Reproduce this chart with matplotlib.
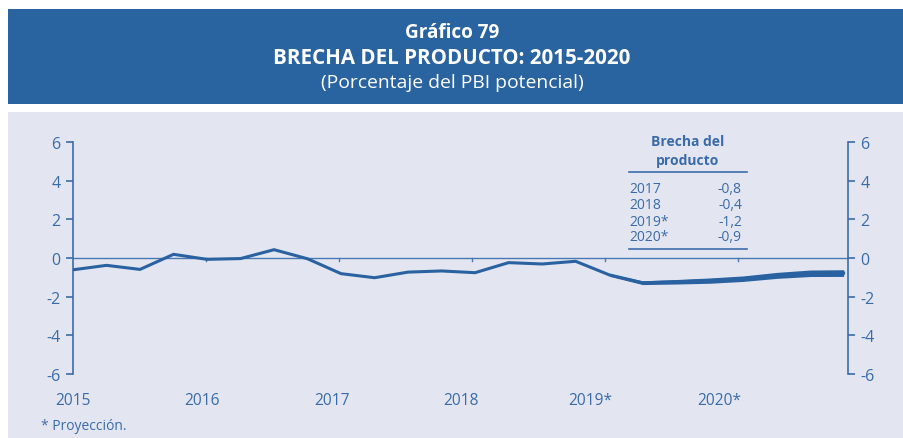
"""Brecha del producto 2015-2020, trimestral, con tabla de promedios anuales."""
import matplotlib.pyplot as plt
import numpy as np
from matplotlib.patches import Rectangle

plt.rcParams['font.family'] = ['Open Sans', 'DejaVu Sans']

# Serie trimestral 2015T1-2020T4 (% del PBI potencial)
gap = [-0.61, -0.38, -0.59, 0.19,
       -0.07, -0.03, 0.43, -0.04,
       -0.81, -1.02, -0.73, -0.67,
       -0.76, -0.24, -0.31, -0.17,
       -0.87, -1.28, -1.23, -1.17,
       -1.07, -0.90, -0.79, -0.78]
years = ['2015', '2016', '2017', '2018', '2019*', '2020*']
table_years = ['2017', '2018', '2019*', '2020*']
table_values = ['-0,8', '-0,4', '-1,2', '-0,9']
y_ticks = [-6, -4, -2, 0, 2, 4, 6]

BAR = '#2963A0'
PANEL = '#E3E6F1'
TXT = '#3A6BA8'
LINE = '#2A62A1'

W, H, DPI = 904, 439, 100
fig = plt.figure(figsize=(W / DPI, H / DPI), dpi=DPI)
fig.patch.set_facecolor('white')

# header bar and panel background (behind the axes)
fig.add_artist(Rectangle((8 / W, 1 - 105 / H), 1, 95 / H, transform=fig.transFigure,
                         facecolor=BAR, edgecolor='none', zorder=-10))
fig.add_artist(Rectangle((8 / W, 0), 1, 1 - 113 / H, transform=fig.transFigure,
                         facecolor=PANEL, edgecolor='none', zorder=-10))

fig.text(0.5, 1 - 33 / H, 'Gráfico 79', ha='center', va='center', color='white',
         fontsize=13.6, fontweight='bold')
fig.text(0.5, 1 - 58 / H, 'BRECHA DEL PRODUCTO: 2015-2020', ha='center', va='center',
         color='white', fontsize=14.8, fontweight='bold')
fig.text(0.5, 1 - 83 / H, '(Porcentaje del PBI potencial)', ha='center', va='center',
         color='white', fontsize=13.9)

ax = fig.add_axes([73 / W, 1 - 375 / H, (848 - 73) / W, (375 - 143) / H])
ax.set_facecolor('none')
x = np.arange(len(gap))
y = np.array(gap)

ax.plot(x, y, color=LINE, lw=2.2, solid_joinstyle='round', zorder=3)

# projection stretch drawn progressively thicker
proj = slice(16, 24)
half = np.array([1.4, 1.85, 2.25, 2.65, 2.75, 3.0, 3.25, 3.35]) / 19.3
ax.fill_between(x[proj], y[proj] - half, y[proj] + half, color=LINE, lw=0, zorder=3)

ax.axhline(0, color='#4A78B2', lw=1.0, zorder=2)

ax.set_xlim(0, 23.13)
ax.set_ylim(-6, 6)
for s in ('top', 'bottom'):
    ax.spines[s].set_visible(False)
for s in ('left', 'right'):
    ax.spines[s].set_color('#3C6CAA')
    ax.spines[s].set_linewidth(1.2)

ax.set_yticks(y_ticks)
ax.set_yticklabels([str(v) for v in y_ticks])
ax.tick_params(axis='y', which='both', left=True, right=True, labelleft=True,
               labelright=True, direction='out', length=5, width=1.2,
               color='#3C6CAA', labelcolor=TXT, labelsize=11.5, pad=4)

# year labels under the panel; year ticks sit on the zero line
ax.set_xticks(np.arange(len(years)) * 3.86)
ax.set_xticklabels(years)
ax.tick_params(axis='x', length=0, labelcolor=TXT, labelsize=11.2, pad=13)
for k in range(1, 6):
    ax.plot([k * 3.97, k * 3.97], [0, -0.15], color='#4A78B2', lw=1.0, zorder=2)

# summary table
tx0, tx1 = 629, 747
fig.text(688 / W, 1 - 142 / H, 'Brecha del', ha='center', va='center', color=TXT,
         fontsize=10, fontweight='bold')
fig.text(688 / W, 1 - 161 / H, 'producto', ha='center', va='center', color=TXT,
         fontsize=10, fontweight='bold')
fig.add_artist(plt.Line2D([tx0 / W, tx1 / W], [1 - 173 / H, 1 - 173 / H],
                          transform=fig.transFigure, color='#3C6CAA', lw=1.2))
for i, (yr, val) in enumerate(zip(table_years, table_values)):
    yy = 1 - (190 + 16 * i) / H
    fig.text(tx0 / W, yy, yr, ha='left', va='center', color=TXT, fontsize=10)
    fig.text(742 / W, yy, val, ha='right', va='center', color=TXT, fontsize=10)
fig.add_artist(plt.Line2D([tx0 / W, tx1 / W], [1 - 250 / H, 1 - 250 / H],
                          transform=fig.transFigure, color='#3C6CAA', lw=1.2))

fig.text(41 / W, 1 - 427 / H, '* Proyección.', ha='left', va='center', color=TXT,
         fontsize=10)

fig.savefig('out.png', dpi=DPI, facecolor=fig.get_facecolor())
plt.close()
